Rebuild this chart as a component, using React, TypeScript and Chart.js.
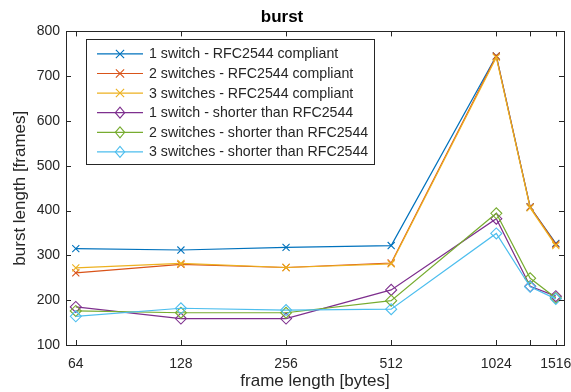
import React, { useEffect, useRef } from 'react';
import { Chart, registerables } from 'chart.js';

Chart.register(...registerables);

const chartTitle = 'burst';
const xAxisTitle = 'frame length [bytes]';
const yAxisTitle = 'burst length [frames]';

const frameLengths = [64, 128, 256, 512, 1024, 1280, 1516];
const xTickValues = [64, 128, 256, 512, 1024, 1280, 1516];
const xTickLabels = ['64', '128', '256', '512', '1024', '', '1516'];
const yMin = 100;
const yMax = 800;
const yStep = 100;

const seriesLabels = [
  '1 switch - RFC2544 compliant',
  '2 switches - RFC2544 compliant',
  '3 switches - RFC2544 compliant',
  '1 switch - shorter than RFC2544',
  '2 switches - shorter than RFC2544',
  '3 switches - shorter than RFC2544',
];
const seriesColors = ['#0072BD', '#D95319', '#EDB120', '#7E2F8E', '#77AC30', '#4DBEEE'];
const seriesMarkers = ['crossRot', 'crossRot', 'crossRot', 'rectRot', 'rectRot', 'rectRot'];

const oneSwitchCompliant = [315, 312, 318, 322, 745, 408, 327];
const twoSwitchesCompliant = [261, 280, 273, 283, 745, 408, 325];
const threeSwitchesCompliant = [272, 282, 273, 281, 742, 406, 322];
const oneSwitchShorter = [185, 159, 159, 223, 382, 231, 209];
const twoSwitchesShorter = [176, 172, 172, 199, 394, 249, 205];
const threeSwitchesShorter = [164, 182, 178, 180, 349, 230, 203];

const seriesValues = [
  oneSwitchCompliant,
  twoSwitchesCompliant,
  threeSwitchesCompliant,
  oneSwitchShorter,
  twoSwitchesShorter,
  threeSwitchesShorter,
];

const AXIS_COLOR = '#262626';
const FONT = 'Arial, "Liberation Sans", Helvetica, sans-serif';

function drawMarker(ctx: CanvasRenderingContext2D, style: string, x: number, y: number, r: number, color: string) {
  ctx.save();
  ctx.strokeStyle = color;
  ctx.lineWidth = 1.1;
  ctx.beginPath();
  if (style === 'crossRot') {
    const d = r * 0.75;
    ctx.moveTo(x - d, y - d);
    ctx.lineTo(x + d, y + d);
    ctx.moveTo(x + d, y - d);
    ctx.lineTo(x - d, y + d);
  } else {
    ctx.moveTo(x, y - r);
    ctx.lineTo(x + r * 0.85, y);
    ctx.lineTo(x, y + r);
    ctx.lineTo(x - r * 0.85, y);
    ctx.closePath();
  }
  ctx.stroke();
  ctx.restore();
}

const boxAndLegendPlugin = {
  id: 'boxAndLegend',
  afterDraw(chart: any) {
    const ctx: CanvasRenderingContext2D = chart.ctx;
    const { left, right, top, bottom } = chart.chartArea;
    const xs = chart.scales.x;
    const ys = chart.scales.y;
    const tick = 5;
    ctx.save();
    ctx.strokeStyle = AXIS_COLOR;
    ctx.lineWidth = 1;
    ctx.beginPath();
    xs.ticks.forEach((t: any) => {
      const px = Math.round(xs.getPixelForValue(t.value)) + 0.5;
      ctx.moveTo(px, bottom);
      ctx.lineTo(px, bottom - tick);
      ctx.moveTo(px, top);
      ctx.lineTo(px, top + tick);
    });
    ys.ticks.forEach((t: any) => {
      const py = Math.round(ys.getPixelForValue(t.value)) + 0.5;
      ctx.moveTo(left, py);
      ctx.lineTo(left + tick, py);
      ctx.moveTo(right, py);
      ctx.lineTo(right - tick, py);
    });
    ctx.stroke();
    ctx.strokeRect(Math.round(left) + 0.5, Math.round(top) + 0.5, Math.round(right - left), Math.round(bottom - top));

    const lx = left + 20;
    const ly = top + 8;
    const lw = 288;
    const lh = 125;
    ctx.fillStyle = '#ffffff';
    ctx.fillRect(lx, ly, lw, lh);
    ctx.strokeStyle = AXIS_COLOR;
    ctx.strokeRect(Math.round(lx) + 0.5, Math.round(ly) + 0.5, lw, lh);
    ctx.font = `14.2px ${FONT}`;
    ctx.textBaseline = 'middle';
    ctx.textAlign = 'left';
    chart.data.datasets.forEach((ds: any, i: number) => {
      const cy = ly + 14.5 + i * 19.6;
      ctx.strokeStyle = ds.borderColor;
      ctx.lineWidth = 1.2;
      ctx.beginPath();
      ctx.moveTo(lx + 11, cy);
      ctx.lineTo(lx + 57, cy);
      ctx.stroke();
      drawMarker(ctx, ds.pointStyle, lx + 34, cy, 5.5, ds.borderColor);
      ctx.fillStyle = AXIS_COLOR;
      ctx.fillText(ds.label, lx + 63, cy + 0.5);
    });
    ctx.restore();
  },
};

export default function App() {
  const canvasRef = useRef<HTMLCanvasElement | null>(null);

  useEffect(() => {
    document.body.style.margin = '0';
    const canvas = canvasRef.current;
    if (!canvas) return;
    const datasets = seriesLabels.map((label, i) => ({
      label,
      data: frameLengths.map((x, j) => ({ x, y: seriesValues[i][j] })),
      borderColor: seriesColors[i],
      backgroundColor: 'rgba(0,0,0,0)',
      borderWidth: 1.2,
      pointStyle: seriesMarkers[i],
      pointRadius: seriesMarkers[i] === 'crossRot' ? 5 : 5.5,
      pointBorderWidth: 1.1,
      pointBorderColor: seriesColors[i],
      pointBackgroundColor: 'rgba(0,0,0,0)',
      tension: 0,
      order: seriesLabels.length - i,
    }));

    const chart = new Chart(canvas, {
      type: 'line',
      data: { datasets },
      plugins: [boxAndLegendPlugin],
      options: {
        responsive: false,
        animation: false,
        devicePixelRatio: 1,
        layout: { padding: { top: 0, right: 7, bottom: 0, left: 0 } },
        plugins: {
          legend: { display: false },
          tooltip: { enabled: false },
          title: {
            display: true,
            text: chartTitle,
            color: '#000000',
            font: { family: FONT, size: 17, weight: 'bold' },
            padding: { top: 7, bottom: 4 },
          },
        },
        scales: {
          x: {
            type: 'logarithmic',
            min: 60,
            max: 1600,
            afterBuildTicks: (s: any) => {
              s.ticks = xTickValues.map((v) => ({ value: v }));
            },
            afterFit: (s: any) => {
              s.height = 47;
              s.paddingLeft = 0;
              s.paddingRight = 0;
            },
            grid: { display: false, drawTicks: false },
            border: { display: false },
            ticks: {
              autoSkip: false,
              maxRotation: 0,
              minRotation: 0,
              padding: 11,
              color: AXIS_COLOR,
              font: { family: FONT, size: 14 },
              callback: (v: any) => {
                const idx = xTickValues.indexOf(Number(v));
                return idx >= 0 ? xTickLabels[idx] : '';
              },
            },
            title: {
              display: true,
              text: xAxisTitle,
              color: AXIS_COLOR,
              font: { family: FONT, size: 17 },
              padding: { top: 0, bottom: 0 },
            },
          },
          y: {
            type: 'linear',
            min: yMin,
            max: yMax,
            afterFit: (s: any) => {
              s.width = 66;
              s.paddingTop = 0;
              s.paddingBottom = 0;
            },
            grid: { display: false, drawTicks: false },
            border: { display: false },
            ticks: {
              stepSize: yStep,
              padding: 6,
              color: AXIS_COLOR,
              font: { family: FONT, size: 14 },
            },
            title: {
              display: true,
              text: yAxisTitle,
              color: AXIS_COLOR,
              font: { family: FONT, size: 17 },
              padding: { top: 10, bottom: 0 },
            },
          },
        },
      },
    } as any);
    return () => chart.destroy();
  }, []);

  return (
    <div style={{ position: 'absolute', left: 0, top: 0, width: 571, height: 392, background: '#ffffff' }}>
      <canvas ref={canvasRef} width={571} height={392} style={{ width: 571, height: 392, display: 'block' }} />
    </div>
  );
}
